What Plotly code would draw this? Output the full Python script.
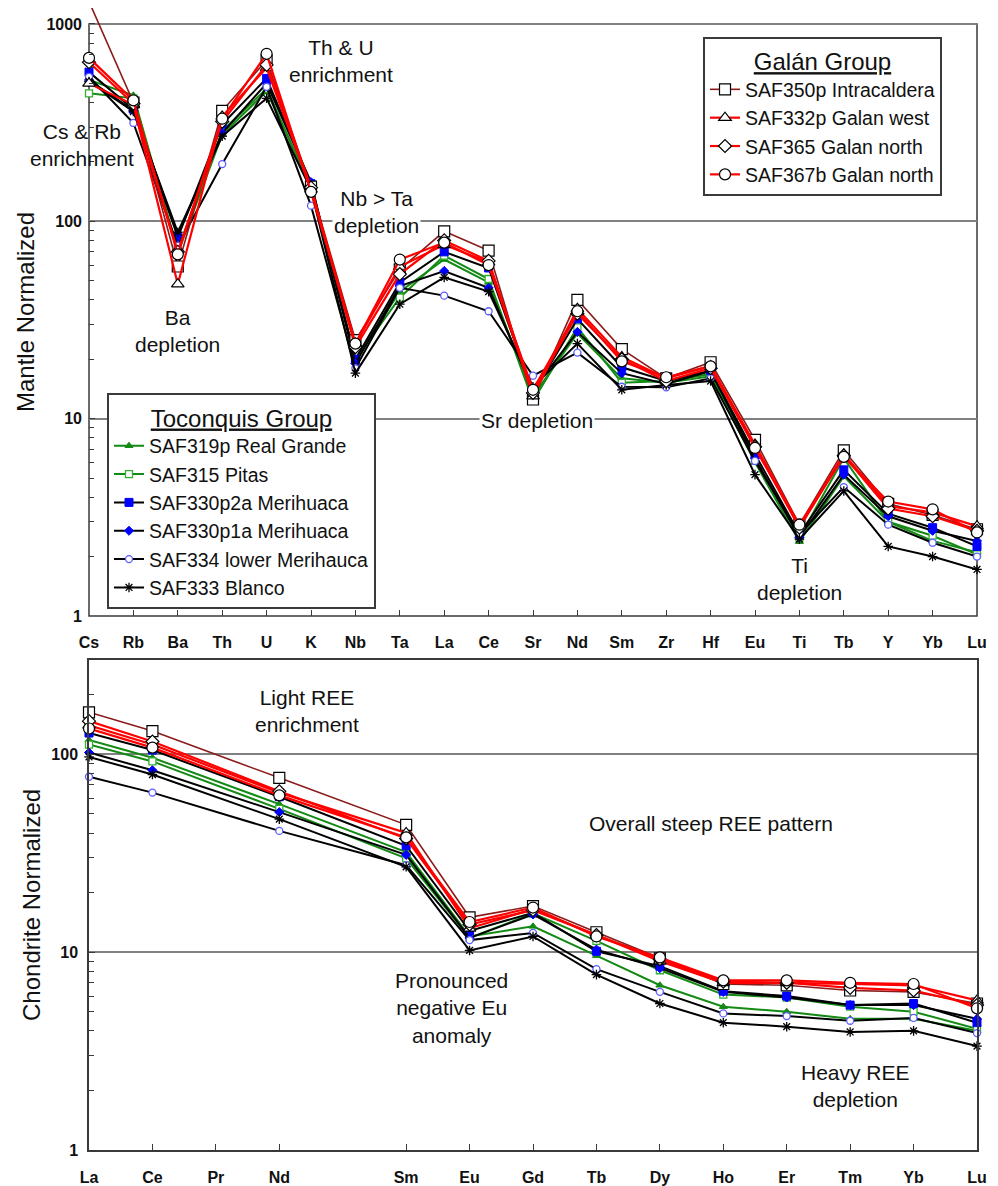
import math
import plotly.graph_objects as go

# ---------------- data ----------------
SPIDER_ELEMENTS = ["Cs", "Rb", "Ba", "Th", "U", "K", "Nb", "Ta", "La", "Ce", "Sr",
                   "Nd", "Sm", "Zr", "Hf", "Eu", "Ti", "Tb", "Y", "Yb", "Lu"]
REE_AXIS = ["La", "Ce", "Pr", "Nd", "Pm", "Sm", "Eu", "Gd", "Tb", "Dy", "Ho", "Er", "Tm", "Yb", "Lu"]
REE_TICKS = ["La", "Ce", "Pr", "Nd", "Sm", "Eu", "Gd", "Tb", "Dy", "Ho", "Er", "Tm", "Yb", "Lu"]
REE_ELEMENTS = ["La", "Ce", "Nd", "Sm", "Eu", "Gd", "Tb", "Dy", "Ho", "Er", "Tm", "Yb", "Lu"]

# mantle-normalized (top panel)
SAF350P_MN = [1300, 400, 59, 363, 655, 150, 25, 57, 89, 71, 12.5, 40, 22.5, 16, 19.3, 7.8, 2.9, 6.9, 3.7, 3.25, 2.75]
SAF332P_MN = [500, 390, 48, 340, 600, 145, 24, 59, 76, 62, 13, 36, 20.5, 16, 18.5, 7.4, 2.85, 6.6, 3.6, 3.35, 2.85]
SAF365_MN = [640, 395, 70, 320, 620, 148, 23, 54, 80, 63, 13.5, 34, 20, 15.5, 18, 7.2, 2.8, 6.5, 3.5, 3.2, 2.7]
SAF367B_MN = [673, 410, 68, 331, 706, 141, 24, 64, 78, 60, 14, 35, 19.5, 16.2, 18.4, 7.1, 2.9, 6.4, 3.8, 3.47, 2.65]
SAF319P_MN = [520, 435, 69, 275, 455, 150, 20, 44, 64, 49, 13, 27, 16, 15.2, 16.4, 6.0, 2.38, 5.1, 3.0, 2.4, 2.1]
SAF315_MN = [445, 420, 72, 287, 470, 148, 20, 41, 67, 51, 12.3, 29, 15.2, 15.5, 16.8, 6.2, 2.5, 6.3, 3.0, 2.55, 2.05]
SAF330P2A_MN = [570, 370, 83, 310, 530, 155, 20, 49, 70, 58, 13.5, 32, 18.2, 15.5, 17.5, 6.6, 2.6, 5.5, 3.3, 2.8, 2.25]
SAF330P1A_MN = [520, 365, 85, 280, 500, 158, 19, 47, 56, 46, 14, 27.5, 17, 15, 17.4, 6.3, 2.5, 5.2, 3.2, 2.7, 2.4]
SAF334_MN = [540, 315, 75, 195, 480, 120, 18, 46, 42, 35, 16.5, 21.6, 14.5, 14.4, 16, 6.1, 2.6, 4.5, 2.9, 2.35, 2.0]
SAF333_MN = [510, 360, 88, 270, 420, 145, 17, 38, 52, 44, 14.5, 24, 14, 14.8, 15.5, 5.2, 2.45, 4.3, 2.25, 2.0, 1.72]

# chondrite-normalized (bottom panel)
SAF350P_CN = [163, 131, 76, 44, 15, 17.1, 12.6, 9.3, 6.9, 6.8, 6.4, 6.3, 5.5]
SAF332P_CN = [140, 112, 64, 40, 13.2, 16.5, 12.2, 9.0, 7.0, 7.0, 6.9, 6.8, 5.7]
SAF365_CN = [147, 116, 65, 37.5, 13.8, 16.3, 12.2, 9.2, 7.1, 7.0, 6.6, 6.4, 5.4]
SAF367B_CN = [135, 108, 62, 38, 14.2, 16.8, 12.0, 9.4, 7.2, 7.2, 7.0, 6.9, 5.2]
SAF319P_CN = [118, 96, 56, 32, 12, 13.5, 9.6, 6.8, 5.3, 5.0, 4.6, 4.6, 4.0]
SAF315_CN = [112, 92, 53, 29.8, 11.8, 15.7, 11.4, 8.1, 6.1, 5.9, 5.3, 5.0, 4.1]
SAF330P2A_CN = [128, 105, 61, 34.5, 12.8, 15.8, 10.1, 8.5, 6.35, 6.0, 5.4, 5.5, 4.4]
SAF330P1A_CN = [102, 83, 51, 31, 11.8, 15.5, 10.3, 8.3, 6.3, 5.9, 5.4, 5.4, 4.6]
SAF334_CN = [77, 64, 41, 27.5, 11.5, 12.5, 8.2, 6.3, 4.9, 4.75, 4.5, 4.65, 3.9]
SAF333_CN = [97, 79, 47, 27, 10.2, 12.0, 7.7, 5.5, 4.4, 4.2, 3.95, 4.0, 3.35]

# ---------------- styles ----------------
FONT = "Liberation Sans, Arial, sans-serif"
MAROON, RED, GREEN, BLUE, LBLUE, BLACK = "#8b1a1a", "#ff0000", "#138a13", "#0000ff", "#5c5cff", "#000000"

toconquis = [
    ("SAF319p Real Grande", SAF319P_MN, SAF319P_CN, GREEN, dict(symbol="triangle-up", size=7, color=GREEN, line=dict(color=GREEN, width=1))),
    ("SAF315 Pitas", SAF315_MN, SAF315_CN, GREEN, dict(symbol="square", size=7, color="white", line=dict(color="#33b033", width=1.3))),
    ("SAF330p2a Merihuaca", SAF330P2A_MN, SAF330P2A_CN, BLACK, dict(symbol="square", size=8, color=BLUE, line=dict(color=BLUE, width=1))),
    ("SAF330p1a Merihuaca", SAF330P1A_MN, SAF330P1A_CN, BLACK, dict(symbol="diamond", size=7, color=BLUE, line=dict(color=BLUE, width=1))),
    ("SAF334 lower Merihauca", SAF334_MN, SAF334_CN, BLACK, dict(symbol="circle", size=7, color="white", line=dict(color=LBLUE, width=1.3))),
    ("SAF333 Blanco", SAF333_MN, SAF333_CN, BLACK, dict(symbol="asterisk-open", size=8, color=BLACK, line=dict(color=BLACK, width=1.3))),
]
galan = [
    ("SAF350p Intracaldera", SAF350P_MN, SAF350P_CN, MAROON, 1.6, dict(symbol="square", size=11, color="white", line=dict(color=BLACK, width=1.2))),
    ("SAF332p Galan west", SAF332P_MN, SAF332P_CN, RED, 2.2, dict(symbol="triangle-up", size=11, color="white", line=dict(color=BLACK, width=1.2))),
    ("SAF365 Galan north", SAF365_MN, SAF365_CN, RED, 2.2, dict(symbol="diamond", size=10, color="white", line=dict(color=BLACK, width=1.2))),
    ("SAF367b Galan north", SAF367B_MN, SAF367B_CN, RED, 2.2, dict(symbol="circle", size=11, color="white", line=dict(color=BLACK, width=1.2))),
]

fig = go.Figure()
for name, mn, cn, lc, mk in toconquis:
    fig.add_trace(go.Scatter(x=SPIDER_ELEMENTS, y=mn, name=name, mode="lines+markers",
                             line=dict(color=lc, width=2), marker=mk, cliponaxis=False,
                             legend="legend2", xaxis="x", yaxis="y"))
    fig.add_trace(go.Scatter(x=REE_ELEMENTS, y=cn, name=name, mode="lines+markers",
                             line=dict(color=lc, width=2), marker=mk, cliponaxis=False,
                             showlegend=False, xaxis="x2", yaxis="y2"))
for name, mn, cn, lc, lw, mk in galan:
    fig.add_trace(go.Scatter(x=SPIDER_ELEMENTS, y=mn, name=name, mode="lines+markers",
                             line=dict(color=lc, width=lw), marker=mk, cliponaxis=False,
                             legend="legend", xaxis="x", yaxis="y"))
    fig.add_trace(go.Scatter(x=REE_ELEMENTS, y=cn, name=name, mode="lines+markers",
                             line=dict(color=lc, width=lw), marker=mk, cliponaxis=False,
                             showlegend=False, xaxis="x2", yaxis="y2"))

# ---------------- layout ----------------
OFF = 8                      # page offset of the plot div inside the browser window
W, H = 998 - OFF, 1186 - OFF
ML, MR, MT, MB = 89 - OFF, 21, 0, 34
PW, PH = W - ML - MR, H - MT - MB


def paper(xp, yp):
    """page pixel -> paper fraction"""
    return (xp - OFF - ML) / PW, 1 - (yp - OFF - MT) / PH


DEC_TOP = (617 - 24) / 3.0          # px per decade, top panel
TOP_MAX = 3 + (24 - OFF - MT) / DEC_TOP
BOT_MAX = math.log10(300)
top_dom = [1 - (617 - OFF - MT) / PH, 1.0]
bot_dom = [0.0, 1 - (661 - OFF - MT) / PH]

AXC = "#3a3a3a"
GRID = "#808080"
tickfont = dict(family=FONT, size=16, color="#111", weight="bold")
yfont = dict(family=FONT, size=16, color="#111", weight="bold")

common_x = dict(type="category", ticks="inside", ticklen=6, tickcolor=AXC, tickwidth=1.2,
                showgrid=False, tickfont=tickfont)
common_y = dict(type="log", dtick=1, ticks="inside", ticklen=6, tickcolor=AXC, tickwidth=1.2,
                showgrid=True, gridcolor=GRID, gridwidth=1.5, tickfont=yfont,
                ticklabelstandoff=6,
                minor=dict(ticks="inside", ticklen=5, tickcolor=AXC, tickwidth=1, showgrid=False),
                title_font=dict(family=FONT, size=24, color="#111"), title_standoff=4)

legend_common = dict(xanchor="left", yanchor="top", bgcolor="white", bordercolor=AXC,
                     borderwidth=2, tracegroupgap=0, itemwidth=30,
                     font=dict(family=FONT, size=19.5, color="#111"))

fig.update_layout(
    width=W, height=H, margin=dict(l=ML, r=MR, t=MT, b=MB),
    paper_bgcolor="white", plot_bgcolor="white",
    font=dict(family=FONT, color="#111"),
    xaxis=dict(common_x, anchor="y", domain=[0, 1], categoryorder="array", ticklabelstandoff=15,
               categoryarray=SPIDER_ELEMENTS, range=[0, len(SPIDER_ELEMENTS) - 1], showline=False),
    yaxis=dict(common_y, anchor="x", domain=top_dom, range=[0, TOP_MAX], showline=False,
               title_text="Mantle Normalized"),
    xaxis2=dict(common_x, anchor="y2", domain=[0, 1], categoryorder="array", ticklabelstandoff=12,
                categoryarray=REE_AXIS, range=[0, len(REE_AXIS) - 1], tickvals=REE_TICKS,
                showline=True, mirror=True, linecolor=AXC, linewidth=1.5),
    yaxis2=dict(common_y, anchor="x2", domain=bot_dom, range=[0, BOT_MAX], showline=True,
                mirror=True, linecolor=AXC, linewidth=1.5, title_text="Chondrite Normalized"),
    legend=dict(legend_common, x=paper(703, 37)[0], y=paper(703, 37)[1],
                title=dict(text="<u>Galán Group</u>", side="top center",
                           font=dict(family=FONT, size=24, color="#111"))),
    legend2=dict(legend_common, x=paper(107, 394)[0], y=paper(107, 394)[1],
                 title=dict(text="<u>Toconquis Group</u>", side="top center",
                            font=dict(family=FONT, size=24, color="#111"))),
)

# frame of the top panel (ends at 1000, the trace above may run past it)
fig.add_shape(type="rect", xref="x domain", yref="y domain", x0=0, x1=1, y0=0, y1=3 / TOP_MAX,
              line=dict(color=AXC, width=1.5), layer="below")

notes = [
    ("Cs &amp; Rb<br>enrichment", 82, 145, False),
    ("Th &amp; U<br>enrichment", 341, 61, False),
    ("Ba<br>depletion", 177, 332, False),
    ("Nb &gt; Ta<br>depletion", 376, 212, True),
    ("Sr depletion", 537, 421, True),
    ("Ti<br>depletion", 799, 580, False),
    ("Light REE<br>enrichment", 307, 712, False),
    ("Overall steep REE pattern", 711, 825, False),
    ("Pronounced<br>negative Eu<br>anomaly", 451, 1010, False),
    ("Heavy REE<br>depletion", 855, 1088, False),
]
for text, xp, yp, bg in notes:
    ax, ay = paper(xp, yp)
    fig.add_annotation(text=text, x=ax, y=ay, xref="paper", yref="paper", showarrow=False,
                       xanchor="center", yanchor="middle", align="center",
                       font=dict(family=FONT, size=21, color="#111"),
                       bgcolor="white" if bg else None, borderpad=1)

fig.write_html("out.html")
